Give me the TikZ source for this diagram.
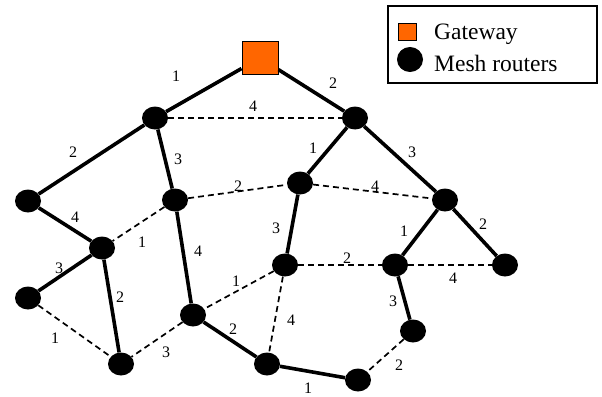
\documentclass[tikz,border=0pt]{standalone}
\usepackage{fontspec}
\setmainfont{Liberation Serif}
\usetikzlibrary{shapes.geometric}
\definecolor{gwor}{HTML}{FF6600}
\begin{document}
\begin{tikzpicture}[x=1pt,y=-1pt,
  router/.style={ellipse,fill=black,minimum width=26pt,minimum height=23pt,inner sep=0pt},
  gateway/.style={rectangle,fill=gwor,draw=black,line width=1pt,minimum width=36pt,minimum height=32pt,inner sep=0pt},
  link/.style={line width=3.6pt},
  backup/.style={line width=1.7pt,dash pattern=on 6pt off 4pt},
  wt/.style={font=\fontsize{16}{16}\selectfont,inner sep=0pt}]
\useasboundingbox (0,0) rectangle (602,396);

% gateway and routers
\node[gateway] (gw) at (260,58) {};
\node[router] (a) at (155,118) {};
\node[router] (b) at (355,118) {};
\node[router] (c) at (28,201) {};
\node[router] (d) at (175,200) {};
\node[router] (e) at (300,183) {};
\node[router] (f) at (445,200) {};
\node[router] (g) at (102,248) {};
\node[router] (h) at (285,265) {};
\node[router] (i) at (395,265) {};
\node[router] (j) at (505,265) {};
\node[router] (k) at (28,298) {};
\node[router] (l) at (193,315) {};
\node[router] (m) at (413,331) {};
\node[router] (n) at (121,364) {};
\node[router] (o) at (267,364) {};
\node[router] (p) at (358,380) {};

% tree links
\draw[link] (gw) -- (a);
\draw[link] (gw) -- (b);
\draw[link] (a) -- (c);
\draw[link] (a) -- (d);
\draw[link] (b) -- (e);
\draw[link] (b) -- (f);
\draw[link] (c) -- (g);
\draw[link] (d) -- (l);
\draw[link] (e) -- (h);
\draw[link] (f) -- (i);
\draw[link] (f) -- (j);
\draw[link] (g) -- (k);
\draw[link] (g) -- (n);
\draw[link] (l) -- (o);
\draw[link] (o) -- (p);
\draw[link] (i) -- (m);

% alternative links
\draw[backup] (a) -- (b);
\draw[backup] (d) -- (e);
\draw[backup] (e) -- (f);
\draw[backup] (d) -- (g);
\draw[backup] (h) -- (i);
\draw[backup] (i) -- (j);
\draw[backup] (h) -- (l);
\draw[backup] (h) -- (o);
\draw[backup] (k) -- (n);
\draw[backup] (l) -- (n);
\draw[backup] (m) -- (p);

% link weights
\node[wt] (w1) at (176,76) {1};
\node[wt] (w2) at (333,83) {2};
\node[wt] (w3) at (253,106) {4};
\node[wt] (w4) at (73,152) {2};
\node[wt] (w5) at (178,159) {3};
\node[wt] (w6) at (313,148) {1};
\node[wt] (w7) at (412,152) {3};
\node[wt] (w8) at (238,186) {2};
\node[wt] (w9) at (375,186) {4};
\node[wt] (w10) at (75,217) {4};
\node[wt] (w11) at (142,242) {1};
\node[wt] (w12) at (276,228) {3};
\node[wt] (w13) at (404,231) {1};
\node[wt] (w14) at (483,224) {2};
\node[wt] (w15) at (198,251) {4};
\node[wt] (w16) at (59,268) {3};
\node[wt] (w17) at (347,258) {2};
\node[wt] (w18) at (453,278) {4};
\node[wt] (w19) at (236,281) {1};
\node[wt] (w20) at (120,297) {2};
\node[wt] (w21) at (393,301) {3};
\node[wt] (w22) at (291,320) {4};
\node[wt] (w23) at (233,329) {2};
\node[wt] (w24) at (55,338) {1};
\node[wt] (w25) at (166,352) {3};
\node[wt] (w26) at (399,365) {2};
\node[wt] (w27) at (308,388) {1};

% legend
\node[draw=black,line width=1.5pt,minimum width=209pt,minimum height=77pt,inner sep=0pt] (legend) at (492.5,44.5) {};
\node[rectangle,fill=gwor,draw=black,line width=0.8pt,minimum width=18pt,minimum height=17pt,inner sep=0pt] (lgw) at (407,31.5) {};
\node[router,minimum width=26pt,minimum height=25pt] (lrt) at (410,59.5) {};
\node[anchor=base west,inner sep=0pt,font=\fontsize{23.5}{23.5}\selectfont] (tgw) at (434,40) {Gateway};
\node[anchor=base west,inner sep=0pt,font=\fontsize{23.5}{23.5}\selectfont] (trt) at (434,71) {Mesh routers};
\end{tikzpicture}
\end{document}
